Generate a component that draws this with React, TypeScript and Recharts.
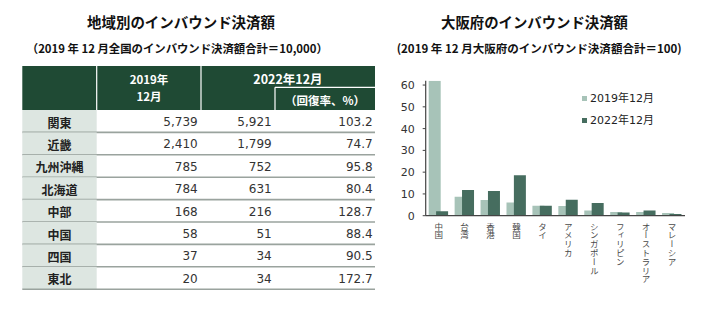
import React from 'react';
import { BarChart, Bar, XAxis, YAxis, Legend } from 'recharts';

// ---- Table data (left) ----
const regions = ['関東', '近畿', '九州沖縄', '北海道', '中部', '中国', '四国', '東北'];
const dec2019 = [5739, 2410, 785, 784, 168, 58, 37, 20];
const dec2022 = [5921, 1799, 752, 631, 216, 51, 34, 34];
const recovery = [103.2, 74.7, 95.8, 80.4, 128.7, 88.4, 90.5, 172.7];

// ---- Bar chart data (right) ----
const countries = ['中国', '台湾', '香港', '韓国', 'タイ', 'アメリカ', 'シンガポール', 'フィリピン', 'オーストラリア', 'マレーシア'];
const osaka2019 = [62, 8.7, 7.2, 6.1, 4.6, 4.4, 2.4, 1.7, 1.7, 1.2];
const osaka2022 = [2.1, 11.8, 11.3, 18.6, 4.6, 7.3, 5.8, 1.5, 2.4, 0.8];
const seriesNames = ['2019年12月', '2022年12月'];
const yTicks = [0, 10, 20, 30, 40, 50, 60];

const chartData = countries.map((c, i) => ({ name: c, a: osaka2019[i], b: osaka2022[i] }));

const LIGHT = '#a7c3b8';
const DARK = '#466d5f';
const HEAD = '#1f4a34';
const CJK = "'Noto Sans CJK JP', sans-serif";
const NUM = "'DejaVu Sans', 'Noto Sans CJK JP', sans-serif";

const VerticalTick = (props: any) => {
  const { x, y, payload } = props;
  return (
    <text
      x={x}
      y={y + 6.5}
      fontSize={8.5}
      fontFamily={CJK}
      fill="#4a4a4a"
      style={{ writingMode: 'vertical-rl', letterSpacing: 0.3 } as any}
    >
      {payload.value}
    </text>
  );
};

const LegendContent = () => (
  <div style={{ fontFamily: NUM, fontSize: 11, color: '#222' }}>
    {seriesNames.map((n, i) => (
      <div key={n} style={{ display: 'flex', alignItems: 'center', height: 11, marginBottom: i === 0 ? 11.7 : 0 }}>
        <span style={{ display: 'inline-block', width: 5, height: 5, background: i === 0 ? LIGHT : DARK, marginRight: 3 }} />
        <span style={{ lineHeight: '11px' }}>{n}</span>
      </div>
    ))}
  </div>
);

const TABLE_L = 22.3;
const TABLE_R = 375;
const C1 = 96.7;
const C2 = 201;
const C3 = 275;
const HEAD_T = 66;
const HEAD_B = 110;
const ROW_H = 22.4;

export default function App() {
  return (
    <div style={{ position: 'absolute', left: 0, top: 0, width: 704, height: 321, background: '#fff', overflow: 'hidden' }}>
      <svg width={704} height={321} style={{ position: 'absolute', left: 0, top: 0 }}>
        {/* Titles */}
        <text x={181} y={21.7} textAnchor="middle" dominantBaseline="central" fontFamily={CJK} fontWeight={700} fontSize={14.5} fill="#111" textLength={188} lengthAdjust="spacingAndGlyphs">
          地域別のインバウンド決済額
        </text>
        <text x={177.3} y={48} textAnchor="middle" dominantBaseline="central" fontFamily={CJK} fontWeight={700} fontSize={11.5} fill="#111" textLength={301} lengthAdjust="spacingAndGlyphs">
          （2019 年 12 月全国のインバウンド決済額合計＝10,000）
        </text>
        <text x={534.5} y={21.7} textAnchor="middle" dominantBaseline="central" fontFamily={CJK} fontWeight={700} fontSize={14.5} fill="#111" textLength={187} lengthAdjust="spacingAndGlyphs">
          大阪府のインバウンド決済額
        </text>
        <text x={539.2} y={48} textAnchor="middle" dominantBaseline="central" fontFamily={CJK} fontWeight={700} fontSize={11.5} fill="#111" textLength={285} lengthAdjust="spacingAndGlyphs">
          (2019 年 12 月大阪府のインバウンド決済額合計＝100)
        </text>

        {/* Table header */}
        <rect x={TABLE_L} y={HEAD_T} width={TABLE_R - TABLE_L} height={HEAD_B - HEAD_T} fill={HEAD} />
        <line x1={C1} y1={HEAD_T} x2={C1} y2={HEAD_B} stroke="#fff" strokeWidth={1.2} />
        <line x1={C2} y1={HEAD_T} x2={C2} y2={HEAD_B} stroke="#fff" strokeWidth={1.2} />
        <line x1={C3} y1={87.3} x2={TABLE_R} y2={87.3} stroke="#fff" strokeWidth={1.2} />
        <line x1={C3} y1={87.3} x2={C3} y2={HEAD_B} stroke="#fff" strokeWidth={1.2} />
        <text x={149} y={79.3} textAnchor="middle" dominantBaseline="central" fontFamily={CJK} fontWeight={700} fontSize={11.5} fill="#fff">2019年</text>
        <text x={149} y={96.3} textAnchor="middle" dominantBaseline="central" fontFamily={CJK} fontWeight={700} fontSize={11.5} fill="#fff">12月</text>
        <text x={288} y={78.3} textAnchor="middle" dominantBaseline="central" fontFamily={CJK} fontWeight={700} fontSize={12.5} fill="#fff">2022年12月</text>
        <text x={325} y={100} textAnchor="middle" dominantBaseline="central" fontFamily={CJK} fontWeight={700} fontSize={11.5} fill="#fff">（回復率、%）</text>

        {/* Table rows */}
        {regions.map((r, i) => {
          const top = HEAD_B + i * ROW_H;
          const cy = top + ROW_H / 2 + 0.8;
          return (
            <g key={r}>
              <rect x={TABLE_L} y={top} width={C1 - TABLE_L} height={ROW_H} fill="#dde6e1" />
              <line x1={TABLE_L} y1={top + ROW_H} x2={TABLE_R} y2={top + ROW_H} stroke="#9aa39e" strokeWidth={1.6} />
              <text x={(TABLE_L + C1) / 2} y={cy} textAnchor="middle" dominantBaseline="central" fontFamily={CJK} fontWeight={700} fontSize={12} fill="#222">{r}</text>
              <text x={197.7} y={cy} textAnchor="end" dominantBaseline="central" fontFamily={NUM} fontSize={12} fill="#333">{dec2019[i].toLocaleString('en-US')}</text>
              <text x={271.7} y={cy} textAnchor="end" dominantBaseline="central" fontFamily={NUM} fontSize={12} fill="#333">{dec2022[i].toLocaleString('en-US')}</text>
              <text x={372.7} y={cy} textAnchor="end" dominantBaseline="central" fontFamily={NUM} fontSize={12} fill="#333">{recovery[i].toFixed(1)}</text>
            </g>
          );
        })}
      </svg>

      <div style={{ position: 'absolute', left: 380, top: 70 }}>
        <BarChart
          width={310}
          height={230}
          data={chartData}
          margin={{ top: 10.7, right: 5, left: 0, bottom: 0 }}
          barSize={12}
          barGap={-4.6}
        >
          <XAxis
            dataKey="name"
            interval={0}
            height={84.3}
            tickLine={false}
            tickSize={0}
            tickMargin={0}
            axisLine={{ stroke: '#444', strokeWidth: 1.2 }}
            tick={<VerticalTick />}
          />
          <YAxis
            width={45.7}
            domain={[0, 62]}
            ticks={yTicks}
            allowDataOverflow
            interval={0}
            tickSize={3}
            tickMargin={8}
            axisLine={{ stroke: '#444', strokeWidth: 1.2 }}
            tickLine={{ stroke: '#444' }}
            tick={{ fontSize: 11, fontFamily: NUM, fill: '#333' }}
          />
          <Legend
            layout="vertical"
            align="center"
            verticalAlign="middle"
            content={<LegendContent />}
            wrapperStyle={{ position: 'absolute', left: 202, top: 22.8, width: 100 }}
          />
          <Bar dataKey="a" name={seriesNames[0]} fill={LIGHT} isAnimationActive={false} />
          <Bar dataKey="b" name={seriesNames[1]} fill={DARK} isAnimationActive={false} />
        </BarChart>
      </div>
    </div>
  );
}
